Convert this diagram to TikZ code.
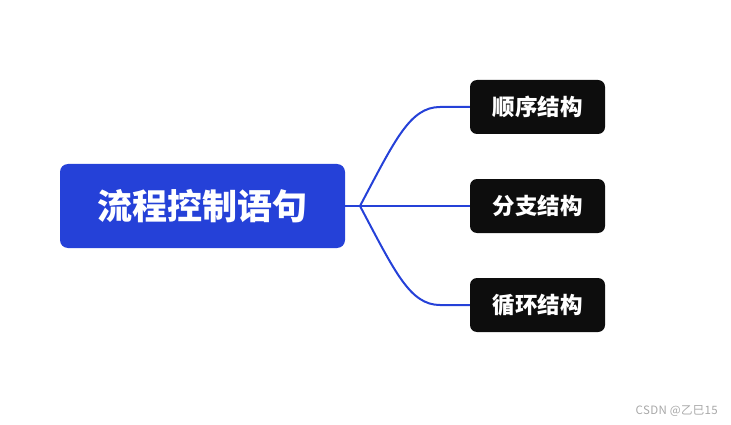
\documentclass[tikz,border=0pt]{standalone}
\usepackage{fontspec}
\setmainfont{Noto Sans CJK SC}
\definecolor{rootblue}{HTML}{2541D8}
\definecolor{leafdark}{HTML}{0D0D0D}
\definecolor{wmgray}{HTML}{A8A8A8}
\begin{document}
\begin{tikzpicture}[x=1pt,y=-1pt,
  rootbox/.style={fill=rootblue,rounded corners=8pt,minimum width=285pt,minimum height=84pt,inner sep=0pt,text=white,font=\fontsize{35}{40}\selectfont\bfseries},
  leafbox/.style={fill=leafdark,rounded corners=7pt,minimum width=135pt,minimum height=54pt,inner sep=0pt,text=white,font=\fontsize{22.5}{26}\selectfont\bfseries},
  link/.style={draw=rootblue,line width=2pt}]
\useasboundingbox (0,0) rectangle (731,425);
\node[rootbox] (root) at (202.5,206) {流程控制语句};
\node[leafbox] (a) at (537.5,107) {顺序结构};
\node[leafbox] (b) at (537.5,206) {分支结构};
\node[leafbox] (c) at (537.5,305) {循环结构};
\coordinate (fork) at (360,206);
\coordinate (ka) at (440,107);
\coordinate (kc) at (440,305);
\draw[link] (root.east) -- (fork);
\draw[link] (fork) .. controls (395,140) and (410,107) .. (ka) -- (a.west);
\draw[link] (fork) -- (b.west);
\draw[link] (fork) .. controls (395,272) and (410,305) .. (kc) -- (c.west);
\node[text=wmgray,font=\fontsize{11.5}{13}\selectfont\addfontfeatures{LetterSpace=3},anchor=east,inner sep=0pt] (wm) at (718,411) {CSDN @乙巳15};
\end{tikzpicture}
\end{document}
